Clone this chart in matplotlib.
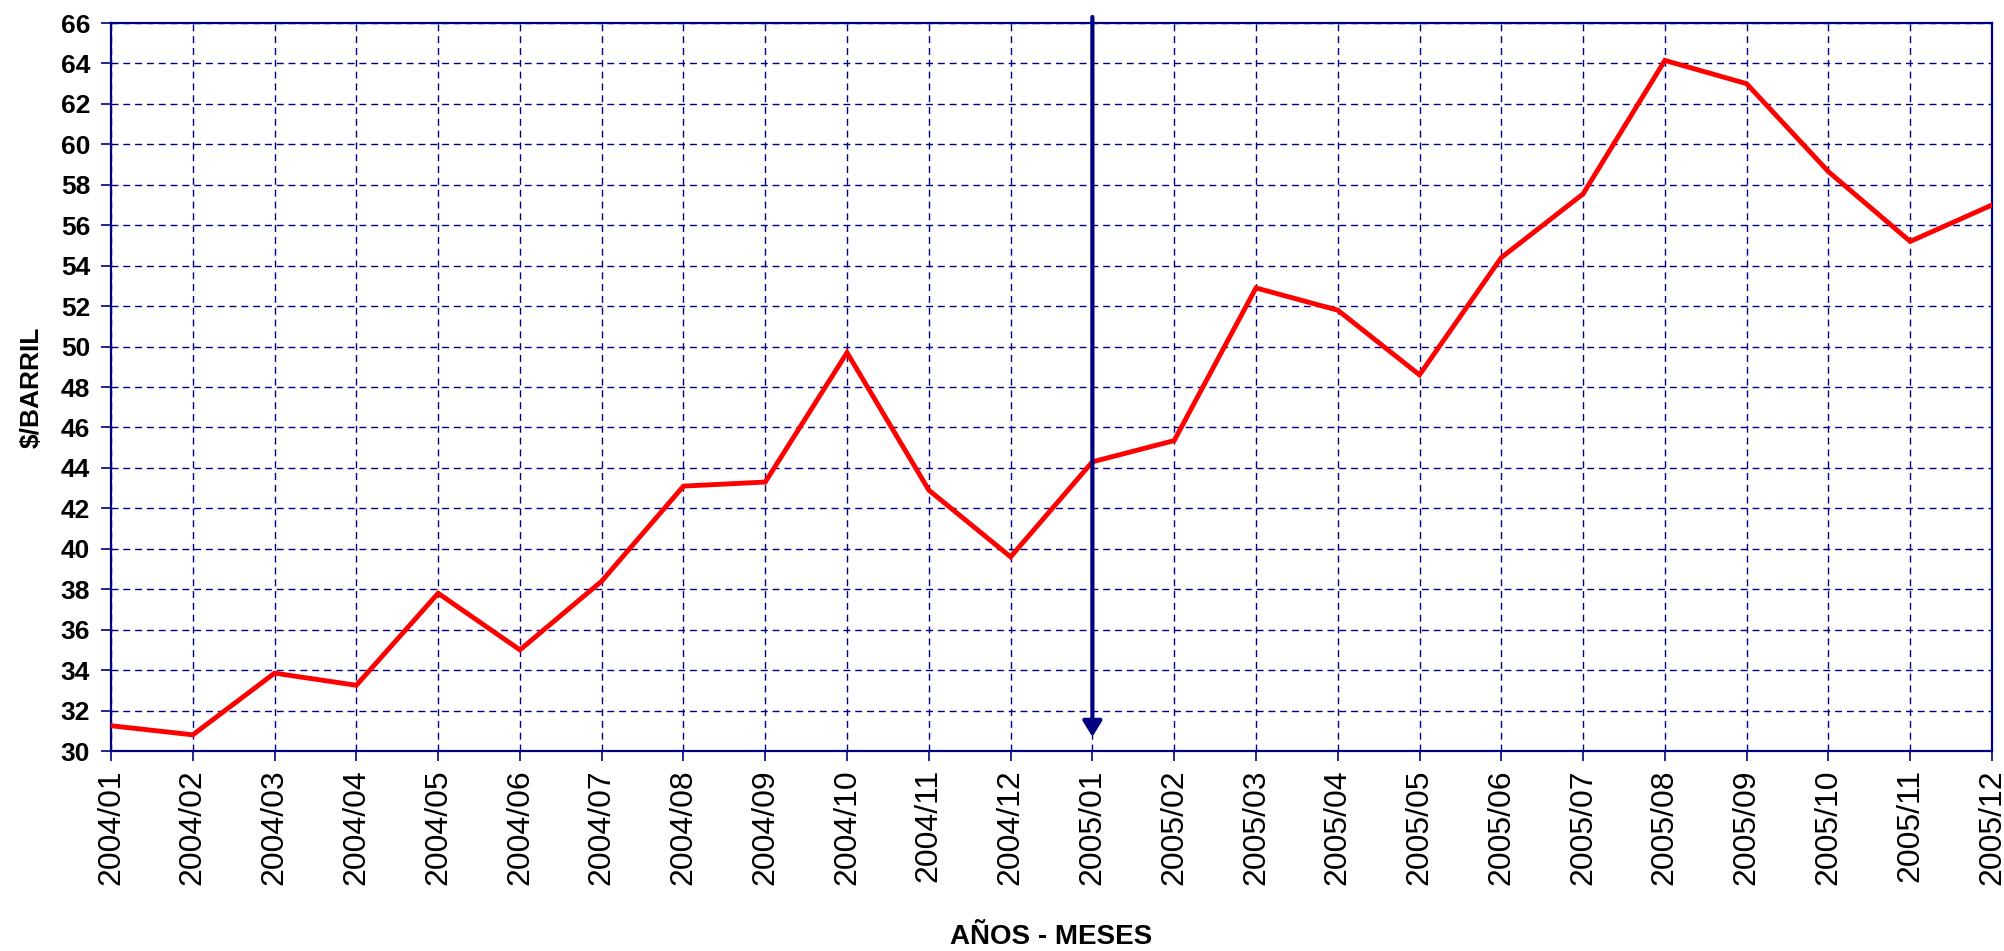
import matplotlib
matplotlib.use('Agg')
import matplotlib.pyplot as plt

# meses y precio del barril
meses = ['2004/01', '2004/02', '2004/03', '2004/04', '2004/05', '2004/06',
         '2004/07', '2004/08', '2004/09', '2004/10', '2004/11', '2004/12',
         '2005/01', '2005/02', '2005/03', '2005/04', '2005/05', '2005/06',
         '2005/07', '2005/08', '2005/09', '2005/10', '2005/11', '2005/12']
precio = [31.25, 30.8, 33.85, 33.25, 37.8, 35.0, 38.4, 43.1, 43.3, 49.7, 42.9, 39.6,
          44.3, 45.35, 52.9, 51.8, 48.6, 54.4, 57.55, 64.15, 63.0, 58.65, 55.2, 57.0]
y_ticks = list(range(30, 67, 2))

# mes marcado con la flecha
mes_flecha = '2005/01'

navy = '#000080'
plt.rcParams['font.family'] = ['Liberation Sans', 'DejaVu Sans']

fig = plt.figure(figsize=(20.04, 9.51), dpi=100)
ax = fig.add_axes([0.0554, 0.2103, 0.9386, 0.7655])

x = list(range(len(meses)))
ax.plot(x, precio, color='red', lw=3.5, zorder=3, solid_joinstyle='miter')

ax.set_xlim(0, len(meses) - 1)
ax.set_ylim(30, 66)
ax.set_xticks(x)
ax.set_xticklabels(meses, rotation=90, fontsize=23)
ax.set_yticks(y_ticks)
ax.set_yticklabels([str(v) for v in y_ticks], fontsize=19, fontweight='bold')

ax.grid(True, color=navy, linestyle=(0, (5, 3.5)), lw=1.0)
for s in ax.spines.values():
    s.set_color(navy)
    s.set_linewidth(1.6)
ax.tick_params(axis='y', colors=navy, labelcolor='black', length=7, width=1.2, pad=8)
ax.tick_params(axis='x', colors=navy, labelcolor='black', length=7, width=1.2, pad=6)

# flecha vertical
xf = meses.index(mes_flecha)
ax.annotate('', xy=(xf, 30.7), xytext=(xf, 66.3), annotation_clip=False,
            arrowprops=dict(arrowstyle='-|>,head_length=0.47,head_width=0.29',
                            color=navy, lw=3, mutation_scale=20,
                            shrinkA=0, shrinkB=0), zorder=4)

ax.set_ylabel('$/BARRIL', fontsize=19, fontweight='bold', labelpad=12)
ax.set_xlabel('AÑOS - MESES', fontsize=20, fontweight='bold', labelpad=28)

fig.savefig('out.png', dpi=100)
